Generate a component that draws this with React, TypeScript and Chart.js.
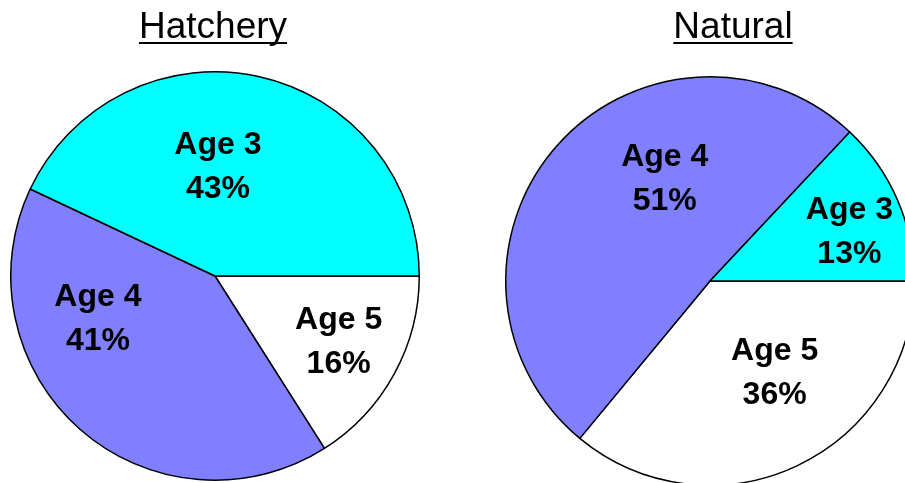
import React, { useEffect, useRef } from "react";
import { Chart, registerables } from "chart.js";

Chart.register(...registerables);

// ---- Data ----
const categories = ["Age 3", "Age 4", "Age 5"];
const hatcheryValues = [43, 41, 16];
const naturalValues = [13, 51, 36];
const chartTitles = ["Hatchery", "Natural"];

// ---- Style / layout (not data) ----
const sliceColors = ["#00FFFF", "#8080FF", "#FFFFFF"];
// label placement relative to each pie: [angle in degrees (counter-clockwise from east), fraction of radius]
const hatcheryLabelPlacement = [
  [88.5, 0.546],
  [199.2, 0.607],
  [332.7, 0.681],
];
const naturalLabelPlacement = [
  [20.4, 0.728],
  [113.4, 0.558],
  [305.8, 0.541],
];

const FONT = "'Liberation Sans', Arial, Helvetica, sans-serif";
const LABEL_SIZE = 32;

type PieProps = {
  title: string;
  values: number[];
  placement: number[][];
  left: number;
  width: number;
  height: number;
  padding: { left: number; right: number; top: number; bottom: number };
  titleX: number;
};

function PieChart({ title, values, placement, left, width, height, padding, titleX }: PieProps) {
  const ref = useRef<HTMLCanvasElement | null>(null);

  useEffect(() => {
    if (!ref.current) return;
    const n = categories.length;
    // Chart.js draws clockwise from the start angle; reverse so slices run counter-clockwise from east
    const data = values.slice().reverse();
    const colors = sliceColors.slice().reverse();
    const labels = categories.slice().reverse();

    const decor = {
      id: "pieDecor",
      afterDraw(chart: any) {
        const ctx = chart.ctx as CanvasRenderingContext2D;
        // title with underline
        ctx.save();
        ctx.font = `37px ${FONT}`;
        ctx.fillStyle = "#000";
        ctx.textAlign = "center";
        ctx.textBaseline = "alphabetic";
        ctx.fillText(title, titleX, 38);
        const w = ctx.measureText(title).width;
        ctx.fillRect(titleX - w / 2, 42, w, 2);
        ctx.restore();

        // slice labels
        const meta = chart.getDatasetMeta(0);
        ctx.save();
        ctx.font = `bold ${LABEL_SIZE}px ${FONT}`;
        ctx.fillStyle = "#000";
        ctx.textAlign = "center";
        ctx.textBaseline = "alphabetic";
        for (let i = 0; i < n; i++) {
          const arc: any = meta.data[n - 1 - i];
          if (!arc) continue;
          const [deg, frac] = placement[i];
          const rad = (deg * Math.PI) / 180;
          const cx = arc.x + Math.cos(rad) * arc.outerRadius * frac;
          const cy = arc.y - Math.sin(rad) * arc.outerRadius * frac;
          const capOffset = LABEL_SIZE * 0.358;
          ctx.fillText(categories[i], cx, cy - 22 + capOffset);
          ctx.fillText(`${values[i]}%`, cx, cy + 22 + capOffset);
        }
        ctx.restore();
      },
    };

    const chart = new Chart(ref.current, {
      type: "pie",
      data: {
        labels,
        datasets: [
          {
            data,
            backgroundColor: colors,
            borderColor: "#000",
            borderWidth: 1.5,
            hoverOffset: 0,
            offset: 0,
          },
        ],
      },
      options: {
        responsive: false,
        animation: false,
        rotation: 90,
        layout: { padding },
        plugins: {
          legend: { display: false },
          tooltip: { enabled: false },
          title: { display: false },
        },
        events: [],
      },
      plugins: [decor],
    });
    return () => chart.destroy();
  }, []);

  return (
    <canvas
      ref={ref}
      width={width}
      height={height}
      style={{ position: "absolute", left, top: 0, width, height }}
    />
  );
}

export default function App() {
  return (
    <div
      style={{
        position: "fixed",
        left: 0,
        top: 0,
        width: 905,
        height: 483,
        overflow: "hidden",
        background: "#fff",
      }}
    >
      <PieChart
        title={chartTitles[0]}
        values={hatcheryValues}
        placement={hatcheryLabelPlacement}
        left={0}
        width={452}
        height={483}
        padding={{ left: 10, right: 32, top: 71, bottom: 2 }}
        titleX={213}
      />
      <PieChart
        title={chartTitles[1]}
        values={naturalValues}
        placement={naturalLabelPlacement}
        left={452}
        width={480}
        height={490}
        padding={{ left: 53, right: 17, top: 76, bottom: 4 }}
        titleX={281}
      />
    </div>
  );
}
